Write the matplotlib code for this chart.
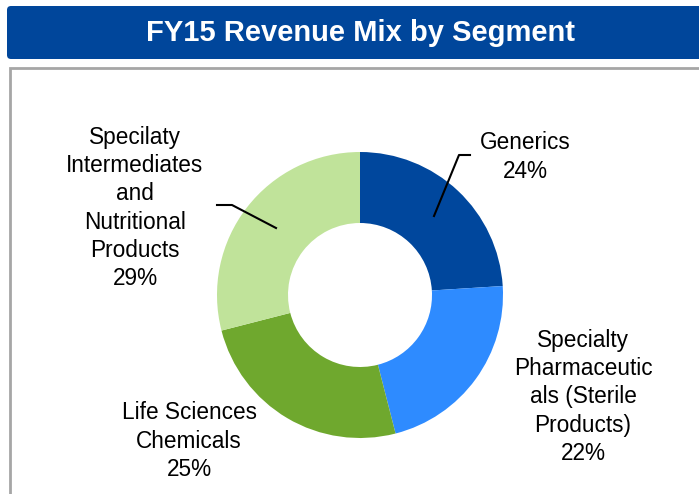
import matplotlib
matplotlib.use("Agg")
import matplotlib.pyplot as plt
from matplotlib.patches import FancyBboxPatch, Rectangle

plt.rcParams['font.family'] = ['Liberation Sans', 'DejaVu Sans']

title = "FY15 Revenue Mix by Segment"
segments = ["Generics", "Specialty Pharmaceuticals (Sterile Products)",
            "Life Sciences Chemicals", "Specialty Intermediates and Nutritional Products"]
label_texts = ["Generics\n24%",
               "Specialty\nPharmaceutic\nals (Sterile\nProducts)\n22%",
               "Life Sciences\nChemicals\n25%",
               "Specilaty\nIntermediates\nand\nNutritional\nProducts\n29%"]
shares = [24, 22, 25, 29]
colors = ["#00479D", "#2E8BFF", "#6FA82E", "#C0E39A"]

W, H = 699, 494
fig = plt.figure(figsize=(W / 100, H / 100), dpi=100)
ax = fig.add_axes([0, 0, 1, 1])

def Y(y):
    return H - y

# title bar
ax.add_patch(FancyBboxPatch((7, Y(59)), 720, 53, boxstyle="round,pad=0,rounding_size=4",
                            facecolor="#00469B", edgecolor="none", zorder=1))
ax.text(360, Y(33), title, color="white", fontsize=21, fontweight="bold",
        ha="center", va="center", zorder=2)
# content box
ax.add_patch(Rectangle((10, Y(520)), 720, 452, facecolor="white",
                       edgecolor="#A6A6A6", linewidth=2, zorder=1))

cx, cy, R = 360, Y(295), 143
ax.pie(shares, colors=colors, startangle=90, counterclock=False,
       center=(cx, cy), radius=R,
       wedgeprops=dict(width=71, edgecolor="none"))

label_pos = [(525, 157), (583, 397), (189, 441), (135, 208)]
for (x, y), t in zip(label_pos, label_texts):
    ax.text(x, Y(y), t, fontsize=16.3, ha="center", va="center",
            linespacing=1.29, color="black", zorder=5)

# leader lines
ax.plot([434, 459, 470], [Y(216), Y(155), Y(155)], color="black", lw=1.5, zorder=4)
ax.plot([276, 232, 217], [Y(228), Y(205), Y(205)], color="black", lw=1.5, zorder=4)

ax.set_xlim(0, W)
ax.set_ylim(0, H)
ax.set_aspect("equal")
ax.axis("off")
fig.savefig("out.png", dpi=100)
